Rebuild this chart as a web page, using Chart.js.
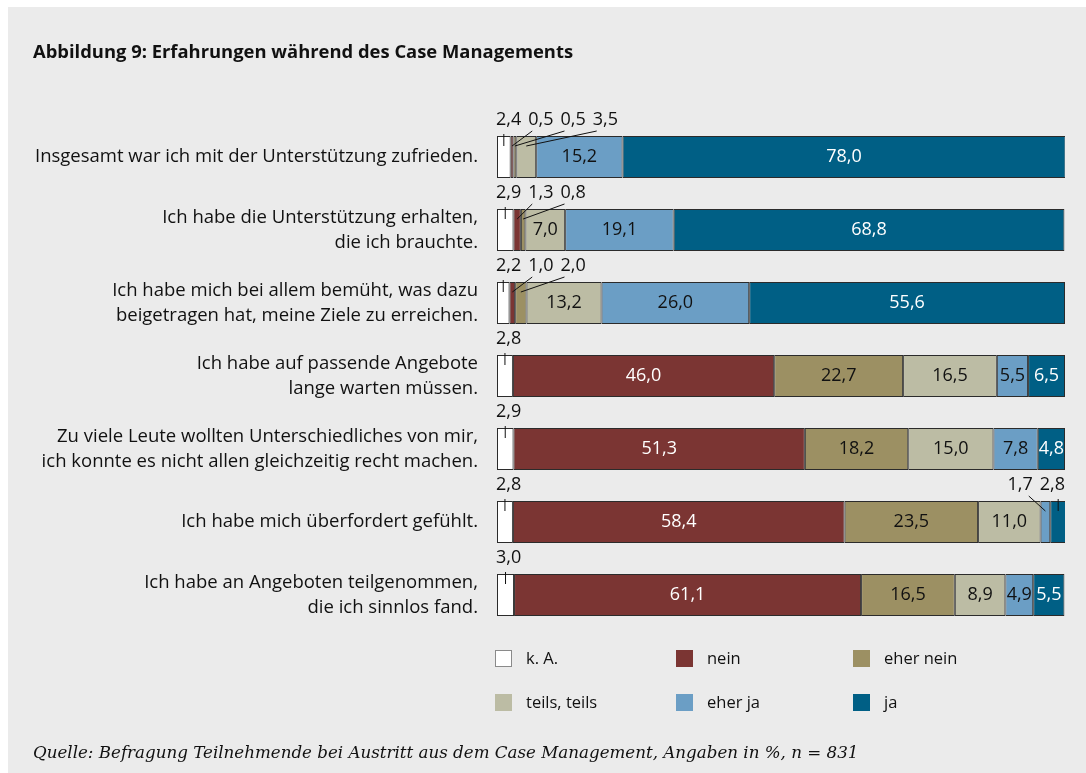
<!DOCTYPE html>
<html><head><meta charset="utf-8">
<script src="https://cdn.jsdelivr.net/npm/chart.js@4"></script>
<style>
html,body{margin:0;padding:0;background:#fff;}
#panel{position:absolute;left:8px;top:7px;width:1078px;height:766px;background:#ebebeb;}
#wrap{position:absolute;left:0;top:0;width:1086px;height:773px;}
#title{position:absolute;left:33px;top:38px;font:bold 18.4px "Open Sans", sans-serif;color:#111;white-space:nowrap;}
#source{position:absolute;left:33px;top:742px;font:italic 16.7px "DejaVu Serif", serif;color:#111;white-space:nowrap;}
.lg{position:absolute;font:16.5px "Open Sans", sans-serif;color:#111;white-space:nowrap;}
.lgbox{position:absolute;width:17px;height:17px;box-sizing:border-box;}
</style></head>
<body>
<div id="panel"></div>
<div id="wrap"><canvas id="c" width="1086" height="773"></canvas></div>
<div id="title">Abbildung 9: Erfahrungen während des Case Managements</div>
<div id="legend"></div>
<div id="source">Quelle: Befragung Teilnehmende bei Austritt aus dem Case Management, Angaben in %, n = 831</div>
<script>
const categories = [
  ["Insgesamt war ich mit der Unterstützung zufrieden."],
  ["Ich habe die Unterstützung erhalten,", "die ich brauchte."],
  ["Ich habe mich bei allem bemüht, was dazu", "beigetragen hat, meine Ziele zu erreichen."],
  ["Ich habe auf passende Angebote", "lange warten müssen."],
  ["Zu viele Leute wollten Unterschiedliches von mir,", "ich konnte es nicht allen gleichzeitig recht machen."],
  ["Ich habe mich überfordert gefühlt."],
  ["Ich habe an Angeboten teilgenommen,", "die ich sinnlos fand."]
];
const seriesNames = ["k. A.", "nein", "eher nein", "teils, teils", "eher ja", "ja"];
const kA       = [2.4, 2.9, 2.2, 2.8, 2.9, 2.8, 3.0];
const nein     = [0.5, 1.3, 1.0, 46.0, 51.3, 58.4, 61.1];
const eherNein = [0.5, 0.8, 2.0, 22.7, 18.2, 23.5, 16.5];
const teils    = [3.5, 7.0, 13.2, 16.5, 15.0, 11.0, 8.9];
const eherJa   = [15.2, 19.1, 26.0, 5.5, 7.8, 1.7, 4.9];
const ja       = [78.0, 68.8, 55.6, 6.5, 4.8, 2.8, 5.5];
const seriesValues = [kA, nein, eherNein, teils, eherJa, ja];
const colors = ["#ffffff", "#7b3533", "#9c9063", "#bcbca4", "#6b9ec5", "#005f85"];
const textColors = ["#111", "#fff", "#111", "#111", "#111", "#fff"];

const FONT = "'Open Sans', sans-serif";

// Legend (HTML)
const lg = document.getElementById('legend');
const lgCols = [495, 676, 853], lgRows = [658, 702];
seriesNames.forEach((n, i) => {
  const x = lgCols[i % 3], y = lgRows[Math.floor(i / 3)];
  const b = document.createElement('div');
  b.className = 'lgbox';
  b.style.left = x + 'px'; b.style.top = (y - 8.5) + 'px';
  b.style.background = colors[i];
  if (i === 0) b.style.border = '1px solid #8a8a8a';
  lg.appendChild(b);
  const t = document.createElement('div');
  t.className = 'lg';
  t.textContent = n;
  t.style.left = (x + 31) + 'px'; t.style.top = (y - 12) + 'px';
  lg.appendChild(t);
});

const fmt = v => v.toFixed(1).replace('.', ',');

const labelPlugin = {
  id: 'segLabels',
  afterDatasetsDraw(chart) {
    const ctx = chart.ctx;
    const xs = chart.scales.x;
    ctx.save();
    ctx.font = "18px " + FONT;
    ctx.textBaseline = 'middle';
    ctx.strokeStyle = '#111';
    ctx.lineWidth = 1;
    categories.forEach((c, i) => {
      let cum = 0;
      const leftSmall = [], rightSmall = [];
      seriesValues.forEach((arr, d) => {
        const v = arr[i];
        const el = chart.getDatasetMeta(d).data[i];
        const x0 = Math.min(el.x, el.base), x1 = Math.max(el.x, el.base);
        const top = el.y - el.height / 2;
        const seg = {v, d, cx: (x0 + x1) / 2, y: el.y, top};
        if (v >= 4) {
          ctx.fillStyle = textColors[d];
          ctx.textAlign = 'center';
          ctx.fillText(fmt(v), seg.cx, el.y);
        } else if (cum < 50) leftSmall.push(seg);
        else rightSmall.push(seg);
        cum += v;
      });
      const drawOut = (seg, left, w) => {
        const ty = seg.top - 16;
        ctx.fillStyle = '#111';
        ctx.textAlign = 'left';
        ctx.fillText(fmt(seg.v), left, ty);
        const tx = Math.min(Math.max(seg.cx, left + 4), left + w - 4);
        const vertical = Math.abs(tx - seg.cx) < 0.5;
        ctx.beginPath();
        ctx.moveTo(tx, seg.top - (vertical ? 2 : 5));
        ctx.lineTo(seg.cx, seg.top + 10);
        ctx.stroke();
      };
      let cursor = xs.getPixelForValue(0) - 1;
      leftSmall.forEach(seg => {
        const w = ctx.measureText(fmt(seg.v)).width;
        drawOut(seg, cursor, w);
        cursor += w + 7;
      });
      cursor = xs.getPixelForValue(100);
      rightSmall.slice().reverse().forEach(seg => {
        const w = ctx.measureText(fmt(seg.v)).width;
        drawOut(seg, cursor - w, w);
        cursor -= w + 7;
      });
    });
    ctx.restore();
  }
};

new Chart(document.getElementById('c'), {
  type: 'bar',
  data: {
    labels: categories,
    datasets: seriesValues.map((arr, d) => ({
      label: seriesNames[d],
      data: arr,
      backgroundColor: colors[d],
      borderColor: '#2b2b2b',
      borderWidth: 1,
      borderSkipped: false,
      barPercentage: 0.575,
      categoryPercentage: 1.0
    }))
  },
  options: {
    indexAxis: 'y',
    responsive: false,
    animation: false,
    maintainAspectRatio: false,
    layout: {padding: {left: 0, right: 21, top: 120.5, bottom: 141.5}},
    plugins: {legend: {display: false}, tooltip: {enabled: false}},
    scales: {
      x: {stacked: true, min: 0, max: 100, display: false},
      y: {
        stacked: true,
        grid: {display: false, drawTicks: false},
        border: {display: false},
        ticks: {
          font: {family: FONT, size: 18.5, lineHeight: 1.35},
          color: '#111',
          padding: 19,
          autoSkip: false
        },
        afterFit(scale) { scale.width = 497; }
      }
    }
  },
  plugins: [labelPlugin]
});
</script>
</body></html>
